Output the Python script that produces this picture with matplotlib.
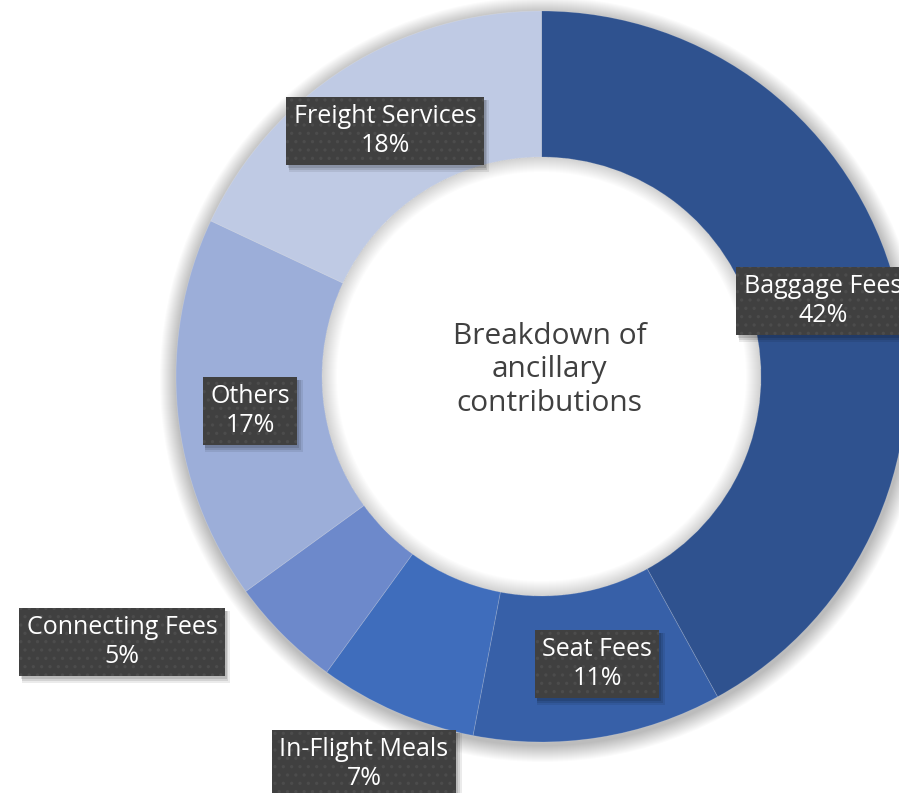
import matplotlib
matplotlib.use("Agg")
import matplotlib.pyplot as plt
from matplotlib.patches import Circle, Wedge, Rectangle

categories = ["Baggage Fees", "Seat Fees", "In-Flight Meals", "Connecting Fees", "Others", "Freight Services"]
shares = [42, 11, 7, 5, 17, 18]
colors = ["#2F528F", "#3760A8", "#3F6DBC", "#6D89CB", "#9CAED9", "#BFCAE4"]
# label centres in pixel coords (origin top-left)
label_pos = [(823, 301), (597, 664), (364, 764), (122, 642), (250, 411), (385, 131)]
center_title = "Breakdown of\nancillary\ncontributions"

plt.rcParams['font.family'] = ['Open Sans', 'DejaVu Sans']
plt.rcParams['hatch.linewidth'] = 1.2

W, H = 899, 793
fig = plt.figure(figsize=(W / 100, H / 100), dpi=100)
ax = fig.add_axes([0, 0, 1, 1])
ax.set_xlim(0, W)
ax.set_ylim(0, H)
cx, cy = 541.5, H - 376.5
R, r = 365.5, 219.5

# soft outer shadow
for d in range(1, 18):
    ax.add_patch(Circle((cx + 1, cy - 3), R + d, facecolor='black', alpha=0.014, lw=0, zorder=0))
# hole
ax.add_patch(Circle((cx, cy), r, facecolor='white', lw=0, zorder=0.5))
# inner shadow
for d in range(1, 16):
    ax.add_patch(Wedge((cx, cy), r, 0, 360, width=d, facecolor='black', alpha=0.012, lw=0, zorder=0.6))

wedges, _ = ax.pie(shares, colors=colors, startangle=90, counterclock=False,
                   radius=R, center=(cx, cy),
                   wedgeprops=dict(width=R - r, edgecolor=(1, 1, 1, 0.18), linewidth=0.6))
for w in wedges:
    w.set_zorder(1)

ax.text(cx + 8, H - 370, center_title, ha='center', va='center', fontsize=21.5,
        color='#404040', linespacing=1.2, zorder=3)

labels = []
for name, v, (x, y) in zip(categories, shares, label_pos):
    t = ax.text(x, H - y, f"{name}\n{v}%", ha='center', va='center', fontsize=18,
                linespacing=1.2, color='white', zorder=5,
                bbox=dict(boxstyle='square,pad=0.3', facecolor='#404040',
                          edgecolor='#4c4c4c', linewidth=0, hatch='..'))
    labels.append(t)

ax.set_xlim(0, W)
ax.set_ylim(0, H)
ax.set_aspect('equal')
ax.axis('off')

# drop shadows for label boxes
fig.canvas.draw()
inv = ax.transData.inverted()
for t in labels:
    bb = t.get_bbox_patch().get_window_extent()
    (x0, y0), (x1, y1) = inv.transform([(bb.x0, bb.y0), (bb.x1, bb.y1)])
    for dx, dy, a, g in [(4, -5, 0.08, 1.5), (3, -4, 0.10, 0.5), (2, -3, 0.12, 0)]:
        ax.add_patch(Rectangle((x0 + dx - g, y0 + dy - g), (x1 - x0) + 2 * g, (y1 - y0) + 2 * g,
                               facecolor='black', alpha=a, lw=0, zorder=4))

ax.set_xlim(0, W)
ax.set_ylim(0, H)
fig.savefig('out.png', dpi=100, facecolor='white')
